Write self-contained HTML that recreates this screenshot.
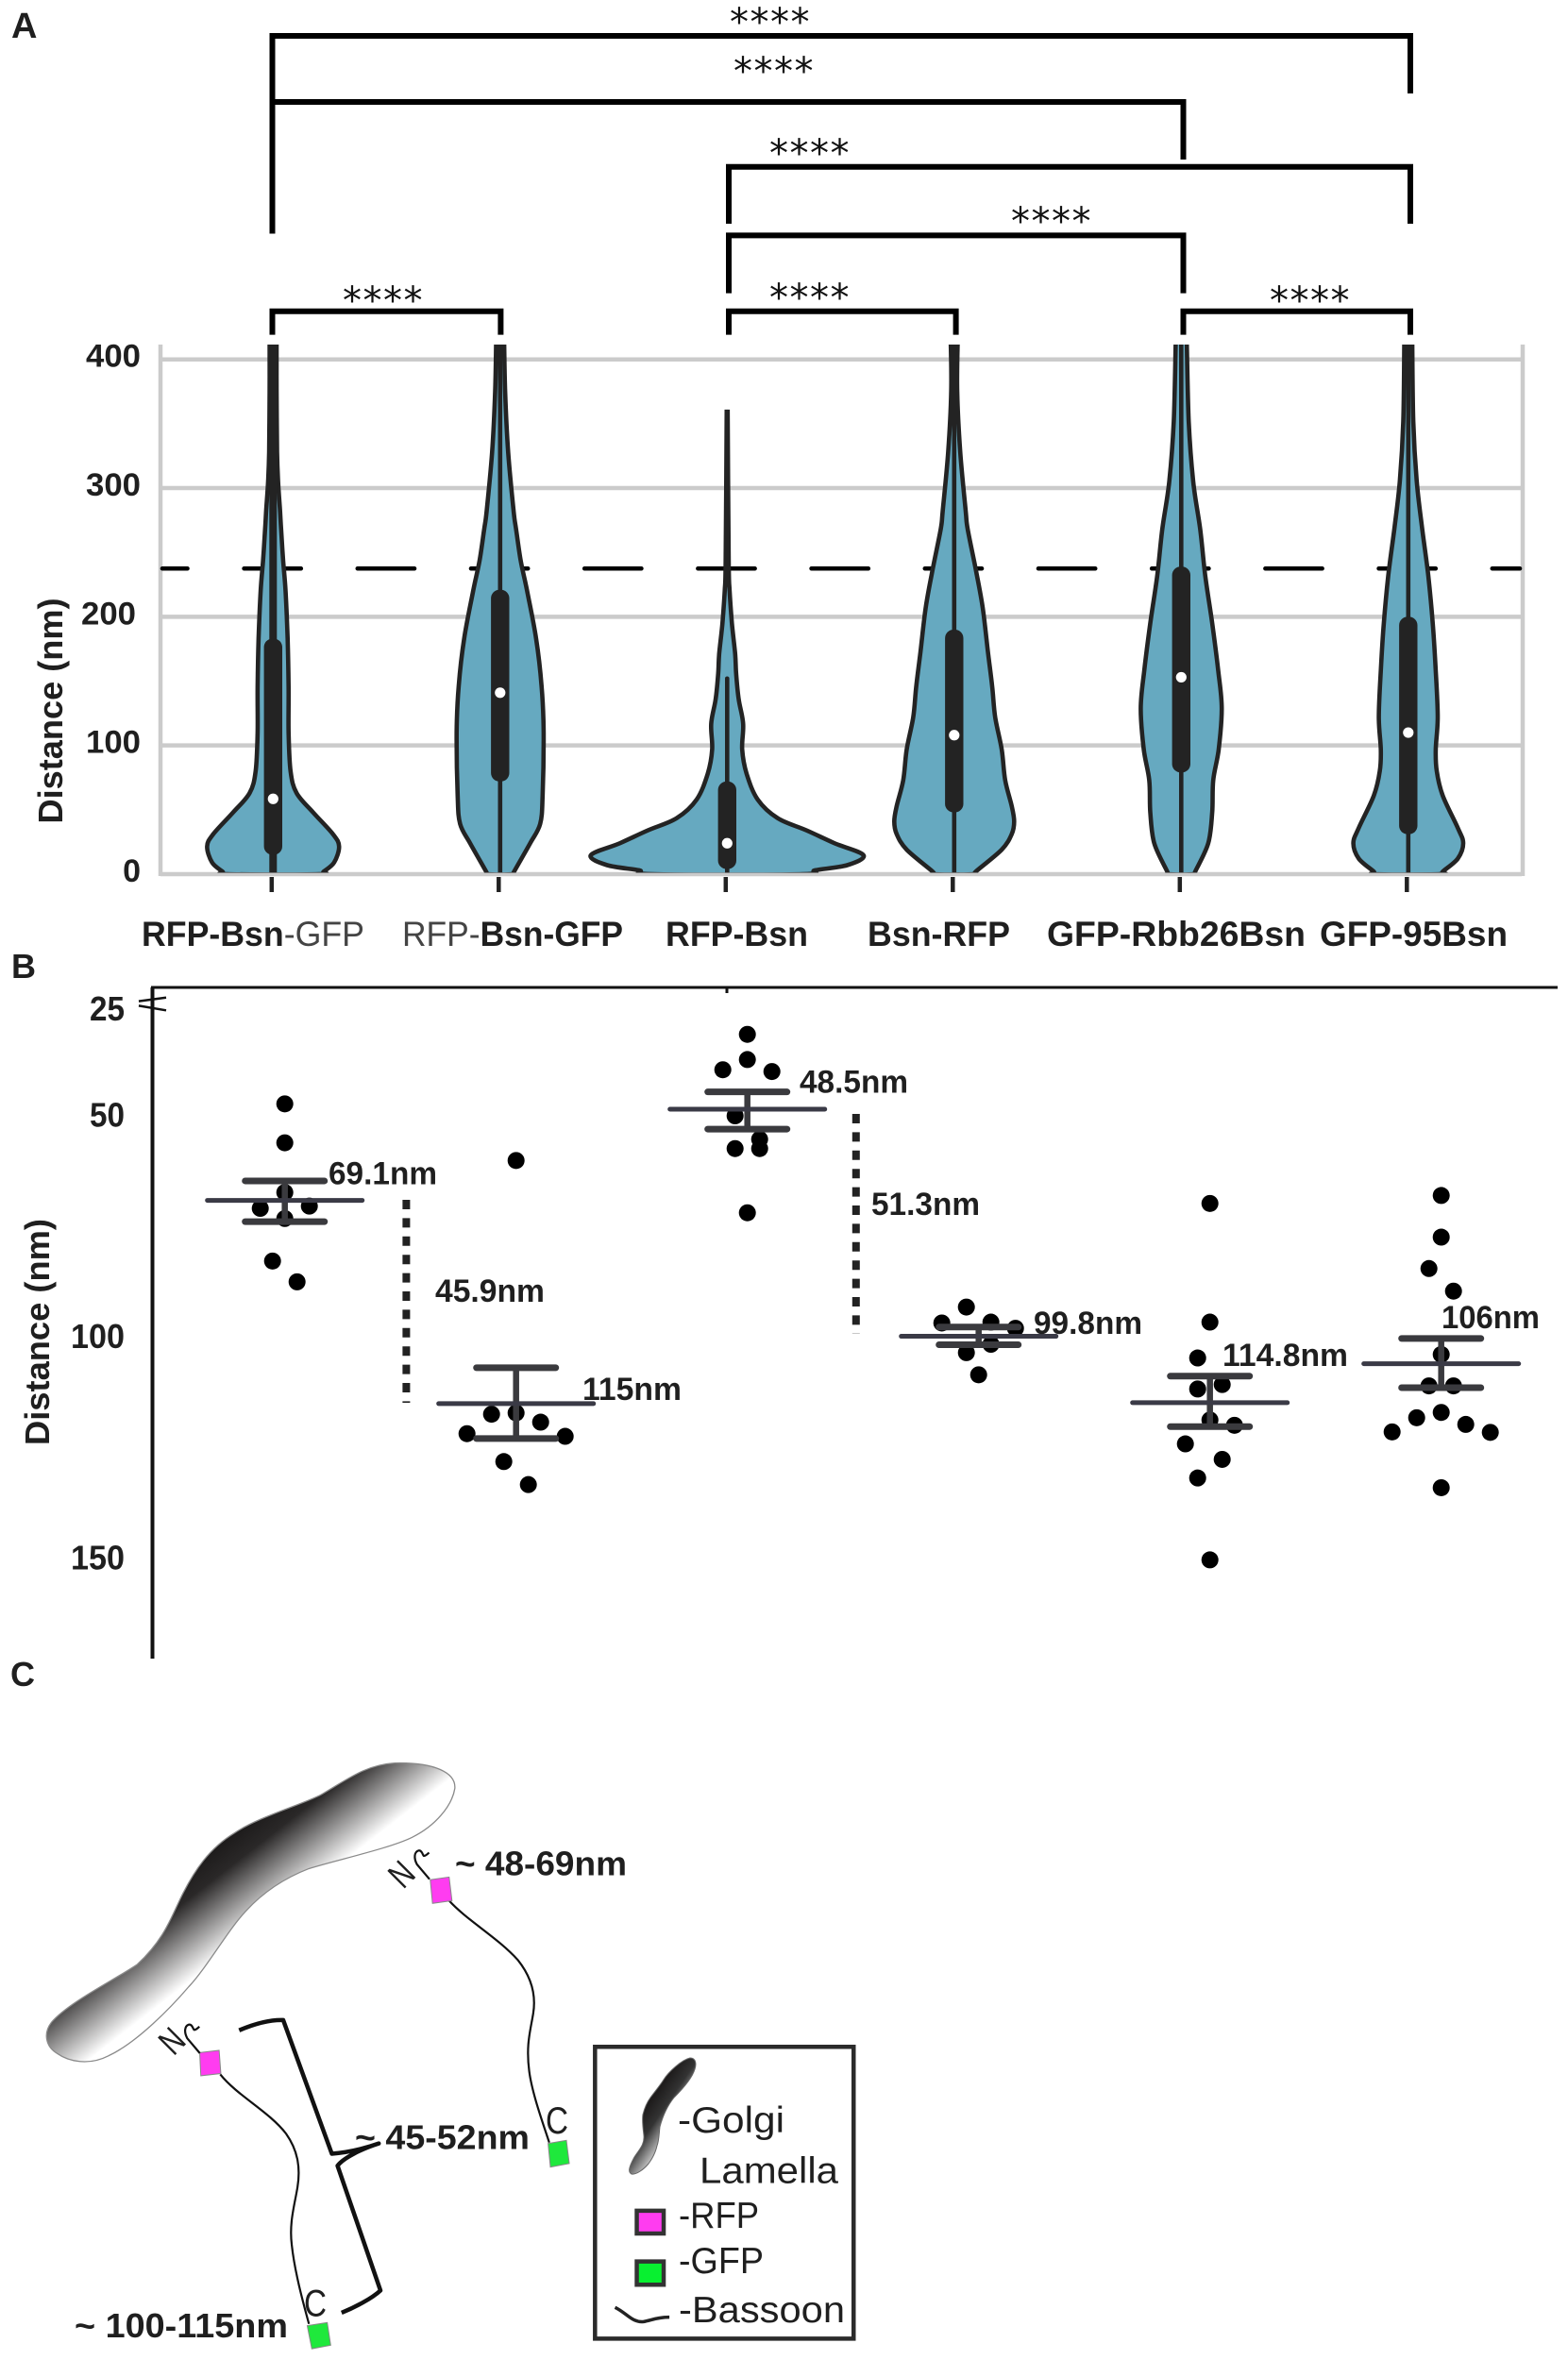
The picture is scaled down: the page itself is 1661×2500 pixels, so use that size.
<!DOCTYPE html>
<html lang="en">
<head>
<meta charset="utf-8">
<title>Bassoon orientation figure</title>
<style>
html,body{margin:0;padding:0;background:#fff;}
svg{display:block;}
text{font-family:"Liberation Sans",sans-serif;fill:#1f1f1f;}
.b{font-weight:bold;}
.star{font-family:"DejaVu Sans",sans-serif;font-size:40px;fill:#111;text-anchor:middle;letter-spacing:1.5px;}
</style>
</head>
<body>
<svg id="figure" xmlns="http://www.w3.org/2000/svg" width="1661" height="2500" viewBox="0 0 1661 2500">
  <defs>
    <clipPath id="plot-clip"><rect x="165" y="365" width="1450" height="559.5"/></clipPath>
    <linearGradient id="golgi-grad" gradientUnits="userSpaceOnUse" x1="400" y1="400" x2="525" y2="525">
      <stop offset="0" stop-color="#1e1c1c"/><stop offset="0.25" stop-color="#2a2828"/><stop offset="1" stop-color="#ffffff"/>
    </linearGradient>
    <linearGradient id="golgi-grad-small" gradientUnits="userSpaceOnUse" x1="680" y1="2240" x2="712" y2="2262">
      <stop offset="0" stop-color="#1e1c1c"/><stop offset="0.4" stop-color="#333"/><stop offset="1" stop-color="#d8d8d8"/>
    </linearGradient>
  </defs>

  <text class="b" x="12" y="40" font-size="38">A</text>
  <text class="b" x="12" y="1036" font-size="36">B</text>
  <text class="b" x="11" y="1786" font-size="36">C</text>

  <!-- Panel A -->
  <g id="a-grid"></g>
  <g id="a-threshold"></g>
  <g id="a-violins" clip-path="url(#plot-clip)"></g>
  <g id="a-axis"></g>
  <text class="b" transform="translate(66,753) rotate(-90)" text-anchor="middle" font-size="36" textLength="239" lengthAdjust="spacingAndGlyphs">Distance (nm)</text>

  <g fill="none" stroke="#000" stroke-width="6">
    <path d="M288.5 247.5V38H1494V99"/>
    <path d="M288.5 108H1253.5V169"/>
    <path d="M772 237V176.7H1494V237"/>
    <path d="M772 310.6V249.4H1253.5V310.6"/>
    <path d="M772 354.6V329.7H1012.6V354.6"/>
    <path d="M288.5 354.6V329.7H530.4V354.6"/>
    <path d="M1253.5 354.6V329.7H1494V354.6"/>
  </g>
  <g>
    <text class="star" x="816" y="37">****</text>
    <text class="star" x="820" y="89">****</text>
    <text class="star" x="858" y="176">****</text>
    <text class="star" x="1114" y="248">****</text>
    <text class="star" x="858" y="329">****</text>
    <text class="star" x="406" y="332">****</text>
    <text class="star" x="1388" y="332">****</text>
  </g>

  <g font-size="37">
    <text x="150" y="1002" textLength="236" lengthAdjust="spacingAndGlyphs"><tspan font-weight="bold">RFP-Bsn</tspan><tspan fill="#444">-GFP</tspan></text>
    <text x="426" y="1002" textLength="234" lengthAdjust="spacingAndGlyphs"><tspan fill="#444">RFP-</tspan><tspan font-weight="bold">Bsn-GFP</tspan></text>
    <text class="b" x="705" y="1002" textLength="151" lengthAdjust="spacingAndGlyphs">RFP-Bsn</text>
    <text class="b" x="919" y="1002" textLength="151" lengthAdjust="spacingAndGlyphs">Bsn-RFP</text>
    <text class="b" x="1109" y="1002" textLength="274" lengthAdjust="spacingAndGlyphs">GFP-Rbb26Bsn</text>
    <text class="b" x="1398" y="1002" textLength="199" lengthAdjust="spacingAndGlyphs">GFP-95Bsn</text>
  </g>

  <!-- Panel B -->
  <path d="M160 1046H1650" stroke="#111" stroke-width="3" fill="none"/>
  <path d="M161.5 1046V1757" stroke="#111" stroke-width="4" fill="none"/>
  <path d="M770 1046V1052" stroke="#111" stroke-width="3" fill="none"/>
  <g stroke="#111" stroke-width="2.5">
    <path d="M147 1060.6L176 1056.7"/><path d="M147 1065.4L176 1070.3"/>
  </g>
  <text class="b" transform="translate(52,1411) rotate(-90)" text-anchor="middle" font-size="36" textLength="240" lengthAdjust="spacingAndGlyphs">Distance (nm)</text>
  <g id="b-axis"></g>
  <g id="b-marks"></g>
  <g stroke="#222" stroke-width="8" stroke-dasharray="10 9.4" fill="none">
    <path d="M430.4 1271V1486"/>
    <path d="M906.8 1180V1413"/>
  </g>
  <g font-size="34" font-weight="bold">
    <text x="348" y="1254.5" textLength="115" lengthAdjust="spacingAndGlyphs">69.1nm</text>
    <text x="461" y="1379" textLength="116" lengthAdjust="spacingAndGlyphs">45.9nm</text>
    <text x="617" y="1483" textLength="105" lengthAdjust="spacingAndGlyphs">115nm</text>
    <text x="847" y="1157.5" textLength="115" lengthAdjust="spacingAndGlyphs">48.5nm</text>
    <text x="923" y="1287" textLength="115" lengthAdjust="spacingAndGlyphs">51.3nm</text>
    <text x="1095" y="1413" textLength="115" lengthAdjust="spacingAndGlyphs">99.8nm</text>
    <text x="1295" y="1447" textLength="133" lengthAdjust="spacingAndGlyphs">114.8nm</text>
    <text x="1527" y="1407" textLength="104" lengthAdjust="spacingAndGlyphs">106nm</text>
  </g>

  <!-- Panel C -->
  <g transform="translate(0,1760) scale(0.60606,0.47192)">
    <path d="M690 228C640 232 610 262 560 300C520 325 450 350 410 385C365 420 340 470 320 520C300 570 290 620 240 680C200 715 120 765 90 810C75 835 80 865 100 880C120 898 155 908 190 885C240 855 300 775 330 730C360 690 400 600 430 560C455 525 490 490 540 465C590 445 680 420 720 395C760 370 790 325 795 285C797 250 760 226 690 228Z" fill="url(#golgi-grad)" stroke="#8a8a8a" stroke-width="1.3" vector-effect="non-scaling-stroke"/>
    <g fill="none" stroke="#111" stroke-width="2.2">
      <path vector-effect="non-scaling-stroke" d="M785 537C815 580 870 620 905 670C930 710 937 750 932 790C927 830 919 860 925 920C930 970 950 1040 960 1080"/>
    </g>
    <polygon points="752,490 785,484 790,537 756,543" fill="#ff3cf0" stroke="#888" stroke-width="1" vector-effect="non-scaling-stroke"/>
    <polygon points="958,1082 990,1075 995,1127 962,1135" fill="#1fe83c" stroke="#888" stroke-width="1" vector-effect="non-scaling-stroke"/>
    <g fill="none" stroke="#111" stroke-width="2.2">
      <path vector-effect="non-scaling-stroke" d="M385 927C415 975 470 1010 500 1060C522 1100 525 1140 520 1180C515 1220 505 1260 510 1310C515 1370 530 1440 540 1487"/>
    </g>
    <polygon points="349,878 383,873 386,925 351,930" fill="#ff3cf0" stroke="#888" stroke-width="1" vector-effect="non-scaling-stroke"/>
    <polygon points="537,1491 572,1484 578,1535 545,1543" fill="#1fe83c" stroke="#888" stroke-width="1" vector-effect="non-scaling-stroke"/>
    <g fill="none" stroke="#111" stroke-width="4.5" stroke-linejoin="round">
      <path vector-effect="non-scaling-stroke" d="M418 828C440 816 470 804 495 805L580 1105C610 1102 640 1092 662 1082C630 1095 600 1115 590 1132L665 1412C650 1430 620 1450 597 1462"/>
    </g>
    <rect x="1040" y="865" width="452" height="655" fill="none" stroke="#2b2b2b" stroke-width="4.5" vector-effect="non-scaling-stroke"/>
    <rect x="1113" y="1233" width="47" height="51" fill="#ff3cf0" stroke="#333" stroke-width="4.5" vector-effect="non-scaling-stroke"/>
    <rect x="1113" y="1347" width="47" height="52" fill="#08f030" stroke="#333" stroke-width="4.5" vector-effect="non-scaling-stroke"/>
    <path d="M1075 1450C1095 1462 1105 1485 1125 1482C1140 1478 1150 1472 1170 1472" fill="none" stroke="#222" stroke-width="3.5" vector-effect="non-scaling-stroke"/>
  </g>
  <path d="M731 2180C737 2180 738 2186 736 2192C733 2202 722 2214 714 2222C706 2232 702 2242 699 2253C698 2262 698 2268 696 2273C694 2282 690 2288 687 2292C682 2298 674 2304 669 2303C665 2301 666 2296 672 2285C677 2277 683 2272 682 2262C681 2254 680 2246 681 2240C683 2232 686 2226 689 2222C695 2214 700 2208 703 2203C708 2195 722 2182 731 2180Z" fill="url(#golgi-grad-small)" stroke="#666" stroke-width="1"/>
  <path d="M455 1990.7L441.7 1975C438 1968 439 1962 443 1960.5C447 1959 448 1966 449 1966C451 1966 453 1964 454.5 1962.5" fill="none" stroke="#111" stroke-width="2.2"/>
  <path transform="translate(-243.3,184.3)" d="M455 1990.7L441.7 1975C438 1968 439 1962 443 1960.5C447 1959 448 1966 449 1966C451 1966 453 1964 454.5 1962.5" fill="none" stroke="#111" stroke-width="2.2"/>
  <text transform="translate(425,1985) rotate(-45)" y="13.5" text-anchor="middle" font-size="38" textLength="21" lengthAdjust="spacingAndGlyphs">N</text>
  <text transform="translate(181.7,2161.7) rotate(-45)" y="13.5" text-anchor="middle" font-size="38" textLength="21" lengthAdjust="spacingAndGlyphs">N</text>
  <text x="590" y="2260" text-anchor="middle" font-size="40" textLength="24" lengthAdjust="spacingAndGlyphs">C</text>
  <text x="334" y="2453.7" text-anchor="middle" font-size="40" textLength="24" lengthAdjust="spacingAndGlyphs">C</text>
  <text class="b" x="482" y="1986.5" font-size="36" textLength="182" lengthAdjust="spacingAndGlyphs">~ 48-69nm</text>
  <text class="b" x="376" y="2276.7" font-size="36" textLength="185" lengthAdjust="spacingAndGlyphs">~ 45-52nm</text>
  <text class="b" x="79" y="2476" font-size="36" textLength="226" lengthAdjust="spacingAndGlyphs">~ 100-115nm</text>
  <g font-size="39">
    <text x="718" y="2259" textLength="113" lengthAdjust="spacingAndGlyphs">-Golgi</text>
    <text x="741" y="2312.7" textLength="147" lengthAdjust="spacingAndGlyphs">Lamella</text>
    <text x="719" y="2360" textLength="85" lengthAdjust="spacingAndGlyphs">-RFP</text>
    <text x="719" y="2408" textLength="90" lengthAdjust="spacingAndGlyphs">-GFP</text>
    <text x="719" y="2460" textLength="176" lengthAdjust="spacingAndGlyphs">-Bassoon</text>
  </g>
</svg>

<script>
// ---------- Panel A data ----------
const violinNames = ['rfp-bsn-gfp-c', 'rfp-bsn-gfp-n', 'rfp-bsn', 'bsn-rfp', 'gfp-rbb26bsn', 'gfp-95bsn'];
const yTicksA = [0, 100, 200, 300, 400];
const thresholdDistance = 237.5;

const levels1 = [0, 2, 9, 21.5, 31, 48, 63, 80, 110, 146, 183, 220, 244, 268, 282, 305, 328, 375, 415];
const density1 = [92, 101, 122, 132, 120, 80, 47, 35, 31, 31, 29, 25, 20, 16, 14, 10, 8, 7, 7];
const levels2 = [0, 2, 24, 39, 61, 110, 146, 183, 220, 244, 268, 282, 328, 375, 415];
const density2 = [26, 28, 60, 80, 85, 87, 83, 72, 54, 41, 32, 27, 16, 10, 8];
const levels3 = [0, 3, 7, 14.7, 24, 34, 43.5, 58, 78, 97, 117, 136, 156, 171, 195, 220, 244, 361];
const density3 = [150, 176, 240, 273, 215, 159, 101, 61, 39, 30, 32, 23, 18, 16, 9.5, 5, 3, 1];
const levels4 = [0, 2, 19, 31, 41, 53, 73, 97, 122, 146, 171, 207, 237, 268, 282, 328, 375, 415];
const density4 = [40, 43, 95, 115, 120, 115, 102, 95, 82, 76, 68, 57, 43, 27, 23, 12, 6, 7];
const levels5 = [0, 2, 24, 48, 73, 97, 129, 158, 195, 232, 268, 305, 352, 415];
const density5 = [26, 28, 54, 62, 64, 75, 81, 74, 62, 48, 38, 24, 15, 11];
const levels6 = [0, 2, 12, 24, 36, 61, 80, 97, 122, 158, 195, 232, 268, 305, 352, 415];
const density6 = [66, 69, 99, 110, 99, 69, 57, 55, 59, 55, 49, 40, 28, 17, 10, 8];

const boxQ1 = [15, 72, 4, 48, 79, 31];
const boxQ3 = [183, 221, 72, 190, 239, 200];
const medians = [58.5, 141, 24, 108, 153, 110];
const whiskerHigh = [415, 415, 152, 415, 415, 415];

// ---------- Panel B data ----------
const scatterNames = ['rfp-bsn-gfp-c', 'rfp-bsn-gfp-n', 'rfp-bsn', 'bsn-rfp', 'gfp-rbb26bsn', 'gfp-95bsn'];
const yTickLabelsB = ['25', '50', '100', '150'];
const yTickValuesB = [26, 50, 100, 150];
const means = [69.1, 115, 48.5, 99.8, 114.8, 106];
const capUpper = [64.7, 106.9, 44.6, 97.7, 108.8, 100.3];
const capLower = [73.9, 122.9, 53.0, 101.7, 120.2, 111.4];

const points1 = [47.3, 56.1, 67.3, 70.9, 70.4, 73.2, 82.8, 87.5];
const slots1 = [0, 0, 0, -2, 2, 0, -1, 1];
const points2 = [60.1, 117.4, 117.1, 119.2, 121.8, 122.4, 128.1, 133.3];
const slots2 = [0, -2, 0, 2, -4, 4, -1, 1];
const points3 = [31.6, 37.3, 39.6, 40.0, 50, 55.3, 57.4, 57.4, 71.9];
const slots3 = [0, 0, -2, 2, -1, 1, -1, 1, 0];
const points4 = [93.2, 96.8, 96.6, 98, 103.5, 101.6, 108.5];
const slots4 = [-1, -3, 1, 3, -1, 1, 0];
const points5 = [69.8, 96.6, 104.7, 111.7, 110.7, 118.7, 119.9, 124.1, 127.6, 131.8, 150.3];
const slots5 = [0, 0, -1, -1, 1, 0, 2, -2, 1, -1, 0];
const points6 = [68, 77.4, 84.5, 89.6, 103.9, 111, 111, 118.2, 117, 119.7, 121.4, 121.5, 134];
const slots6 = [0, 0, -1, 1, 0, -1, 1, -2, 0, 2, -4, 4, 0];

// ---------- Axis functions ----------
const NS = 'http://www.w3.org/2000/svg';
function yA(v) { return 926 - v * 1.3632; }
function xA(i) { return 289.3 + 240.5 * i; }
function widthA(d) { return d / 1.889; }
function yB(v) { return 1182 + (v - 50) * 4.69; }
function xB(i, slot) { return 301.7 + 245 * i + slot * 13; }

function make(tag, attrs, parent) {
  const el = document.createElementNS(NS, tag);
  Object.keys(attrs).forEach(function (k) { el.setAttribute(k, attrs[k]); });
  parent.appendChild(el);
  return el;
}
function smooth(pts) {
  let d = 'M' + pts[0][0].toFixed(1) + ' ' + pts[0][1].toFixed(1);
  for (let i = 0; i < pts.length - 1; i++) {
    const p0 = pts[Math.max(i - 1, 0)], p1 = pts[i], p2 = pts[i + 1], p3 = pts[Math.min(i + 2, pts.length - 1)];
    const c1x = p1[0] + (p2[0] - p0[0]) / 6, c1y = p1[1] + (p2[1] - p0[1]) / 6;
    const c2x = p2[0] - (p3[0] - p1[0]) / 6, c2y = p2[1] - (p3[1] - p1[1]) / 6;
    d += 'C' + c1x.toFixed(1) + ' ' + c1y.toFixed(1) + ' ' + c2x.toFixed(1) + ' ' + c2y.toFixed(1) + ' ' + p2[0].toFixed(1) + ' ' + p2[1].toFixed(1);
  }
  return d;
}

// ---------- Panel A drawing ----------
const grid = document.getElementById('a-grid');
yTicksA.forEach(function (t) {
  const line = make('line', { x1: 170, x2: 1612, y1: yA(t), y2: yA(t), stroke: '#cbcbcb', 'stroke-width': 4.5 }, grid);
  
  
});
const leftSpine = make('line', { x1: 170, x2: 170, y1: 365, y2: 928, stroke: '#cbcbcb', 'stroke-width': 4.5 }, grid);


const rightSpine = make('line', { x1: 1613, x2: 1613, y1: 365, y2: 928, stroke: '#cbcbcb', 'stroke-width': 4.5 }, grid);



const thresholdGroup = document.getElementById('a-threshold');
const threshold = make('line', { x1: 172, x2: 1610, y1: yA(thresholdDistance), y2: yA(thresholdDistance), stroke: '#000', 'stroke-width': 4.6, 'stroke-linecap': 'round' }, thresholdGroup);


threshold.setAttribute('stroke-dasharray', '26.5 60.1 ' + Array(12).fill('60.2 60').join(' '));

const violinLevels = [levels1, levels2, levels3, levels4, levels5, levels6];
const violinDensity = [density1, density2, density3, density4, density5, density6];
const violins = document.getElementById('a-violins');
violinNames.forEach(function (name, i) {
  const cx = xA(i);
  const right = violinLevels[i].map(function (v, j) { return [cx + widthA(violinDensity[i][j]), yA(v)]; });
  const left = violinLevels[i].map(function (v, j) { return [cx - widthA(violinDensity[i][j]), yA(v)]; }).reverse();
  const outline = smooth(left.concat(right));
  const g = make('g', {}, violins);
  
  
  const body = make('path', { d: outline + 'Z', fill: '#66a9c0', stroke: 'none' }, g);
  
  
  const edge = make('path', { d: outline, fill: 'none', stroke: '#232323', 'stroke-width': 4.6, 'stroke-linejoin': 'round' }, g);
  
  
  const whisker = make('line', { x1: cx, x2: cx, y1: yA(0), y2: yA(whiskerHigh[i]), stroke: '#232323', 'stroke-width': i === 0 ? 8 : 4.6, 'stroke-linecap': 'round' }, g);
  
  
  const box = make('rect', { x: cx - 9.7, width: 19.4, y: yA(boxQ3[i]), height: yA(boxQ1[i]) - yA(boxQ3[i]), rx: 9, ry: 9, fill: '#232323' }, g);
  
  
  const med = make('circle', { cx: cx, cy: yA(medians[i]), r: 5.6, fill: '#fff' }, g);
  
  
});

const axisA = document.getElementById('a-axis');
violinNames.forEach(function (name, i) {
  const tick = make('line', { x1: xA(i) - 1.5, x2: xA(i) - 1.5, y1: 929, y2: 945, stroke: '#222', 'stroke-width': 4.5 }, axisA);
  
  
});
yTicksA.forEach(function (t) {
  const label = make('text', { x: t === 200 ? 144 : 149, y: yA(t) + 8, 'text-anchor': 'end', 'font-size': 34, 'font-weight': 'bold' }, axisA);
  label.textContent = String(t);
  
  
  if (String(t).length === 3) { label.setAttribute('textLength', 58); label.setAttribute('lengthAdjust', 'spacingAndGlyphs'); }
});

// ---------- Panel B drawing ----------
const axisB = document.getElementById('b-axis');
yTickLabelsB.forEach(function (t, i) {
  const label = make('text', { x: 132, y: yB(yTickValuesB[i]) + 11.5, 'text-anchor': 'end', 'font-size': 36, 'font-weight': 'bold' }, axisB);
  label.textContent = t;
  
  
  label.setAttribute('textLength', t.length === 3 ? 57 : 37);
  label.setAttribute('lengthAdjust', 'spacingAndGlyphs');
});

const scatterPoints = [points1, points2, points3, points4, points5, points6];
const scatterSlots = [slots1, slots2, slots3, slots4, slots5, slots6];
const marks = document.getElementById('b-marks');
scatterNames.forEach(function (name, i) {
  const g = make('g', {}, marks);
  
  
  scatterPoints[i].forEach(function (v, j) {
    const dot = make('circle', { cx: xB(i, scatterSlots[i][j]), cy: yB(v), r: 9, fill: '#000' }, g);
    
    
  });
  const cx = xB(i, 0);
  const stem = make('line', { x1: cx, x2: cx, y1: yB(capUpper[i]), y2: yB(capLower[i]), stroke: '#3a3a3e', 'stroke-width': 6.5 }, g);
  
  
  const capTop = make('line', { x1: cx - 42, x2: cx + 42, y1: yB(capUpper[i]), y2: yB(capUpper[i]), stroke: '#3a3a3e', 'stroke-width': 7, 'stroke-linecap': 'round' }, g);
  
  
  const capBottom = make('line', { x1: cx - 42, x2: cx + 42, y1: yB(capLower[i]), y2: yB(capLower[i]), stroke: '#3a3a3e', 'stroke-width': 7, 'stroke-linecap': 'round' }, g);
  
  
  const meanLine = make('line', { x1: cx - 82, x2: cx + 82, y1: yB(means[i]), y2: yB(means[i]), stroke: '#3a3a46', 'stroke-width': 5, 'stroke-linecap': 'round' }, g);
  
  
});
</script>
</body>
</html>
